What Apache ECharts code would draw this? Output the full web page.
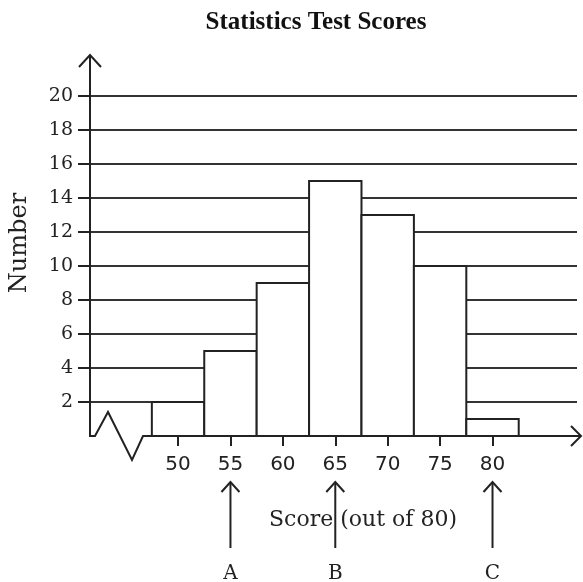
<!DOCTYPE html>
<html>
<head>
<meta charset="utf-8">
<script src="https://cdn.jsdelivr.net/npm/echarts@6/dist/echarts.min.js"></script>
<style>
html,body{margin:0;padding:0;background:#fff;}
#main{width:583px;height:582px;}
</style>
</head>
<body>
<div id="main"></div>
<script>
// ---- data ----
var binCenters = [50, 55, 60, 65, 70, 75, 80];
var counts = [2, 5, 9, 15, 13, 10, 1];
var binWidth = 5;
var xTickValues = [50, 55, 60, 65, 70, 75, 80];
var yTickValues = [2, 4, 6, 8, 10, 12, 14, 16, 18, 20];
var pointerValues = [55, 65, 80];
var pointerLabels = ['A', 'B', 'C'];
var titleText = 'Statistics Test Scores';
var xName = 'Score (out of 80)';
var yName = 'Number';

var INK = '#222';
var chart = echarts.init(document.getElementById('main'), null, {renderer: 'canvas'});

var barData = binCenters.map(function (c, i) { return [c, counts[i]]; });

chart.setOption({
  animation: false,
  backgroundColor: '#fff',
  title: {
    text: titleText,
    left: 311,
    top: 5,
    textAlign: 'center',
    textStyle: {fontFamily: 'Liberation Serif', fontWeight: 'bold', fontSize: 25, color: '#111'}
  },
  grid: {left: 90, right: 6, top: 96, bottom: 146, containLabel: false},
  xAxis: {
    type: 'value',
    min: 41.6,
    max: 88.06,
    axisLine: {show: false},
    splitLine: {show: false},
    axisTick: {show: true, customValues: xTickValues, length: 10, lineStyle: {color: INK, width: 2}},
    axisLabel: {show: true, customValues: xTickValues, margin: 19, fontFamily: 'DejaVu Sans', fontSize: 20, color: '#222'}
  },
  yAxis: {
    type: 'value',
    min: 0,
    max: 20,
    interval: 2,
    axisLine: {show: false},
    axisTick: {show: true, customValues: yTickValues, length: 12, lineStyle: {color: INK, width: 2}},
    axisLabel: {show: true, customValues: yTickValues, margin: 17, fontFamily: 'DejaVu Serif', fontSize: 19, color: '#222'},
    splitLine: {show: true, lineStyle: {color: '#333', width: 2}}
  },
  series: [{
    type: 'custom',
    data: barData,
    z: 5,
    renderItem: function (params, api) {
      var c = api.value(0), v = api.value(1);
      var p1 = api.coord([c - binWidth / 2, v]);
      var p2 = api.coord([c + binWidth / 2, 0]);
      return {
        type: 'rect',
        shape: {x: p1[0], y: p1[1], width: p2[0] - p1[0], height: p2[1] - p1[1]},
        style: {fill: '#fff', stroke: INK, lineWidth: 2}
      };
    }
  }]
});

// decorations placed from the axis scales
var O = chart.convertToPixel({gridIndex: 0}, [41.6, 0]);
var ox = O[0], oy = O[1];
var lineStyle = {stroke: INK, lineWidth: 2, fill: null};
var g = [];
// white mask under the zero baseline segment (break region)
g.push({type: 'rect', z: 8, shape: {x: ox + 1, y: oy - 1, width: 54, height: 3}, style: {fill: '#fff'}});
// axis line with zigzag break
g.push({type: 'polyline', z: 10, shape: {points: [
  [ox, oy - 381], [ox, oy], [ox + 5, oy], [ox + 18, oy - 24], [ox + 42, oy + 24], [ox + 53, oy], [581, oy]
]}, style: lineStyle});
// y arrowhead
g.push({type: 'polyline', z: 10, shape: {points: [[ox - 11, oy - 369], [ox, oy - 381], [ox + 11, oy - 369]]}, style: lineStyle});
// x arrowhead
g.push({type: 'polyline', z: 10, shape: {points: [[571, oy - 10], [581, oy], [571, oy + 10]]}, style: lineStyle});
// pointers
pointerValues.forEach(function (v, i) {
  var px = chart.convertToPixel({gridIndex: 0}, [v, 0])[0];
  g.push({type: 'line', z: 10, shape: {x1: px, y1: oy + 112, x2: px, y2: oy + 46}, style: lineStyle});
  g.push({type: 'polyline', z: 10, shape: {points: [[px - 9, oy + 56], [px, oy + 46], [px + 9, oy + 56]]}, style: lineStyle});
  g.push({type: 'text', z: 10, x: px, y: oy + 138, style: {text: pointerLabels[i], textAlign: 'center', textVerticalAlign: 'middle', fontFamily: 'DejaVu Serif', fontSize: 20, fill: '#222'}});
});
// axis names
g.push({type: 'text', z: 9, x: 363, y: oy + 84, style: {text: xName, textAlign: 'center', textVerticalAlign: 'middle', fontFamily: 'DejaVu Serif', fontSize: 22, fill: '#222'}});
g.push({type: 'text', z: 9, x: 20, y: 243, rotation: Math.PI / 2, style: {text: yName, textAlign: 'center', textVerticalAlign: 'middle', fontFamily: 'DejaVu Serif', fontSize: 24, fill: '#222'}});
chart.setOption({graphic: g});
</script>
</body>
</html>
